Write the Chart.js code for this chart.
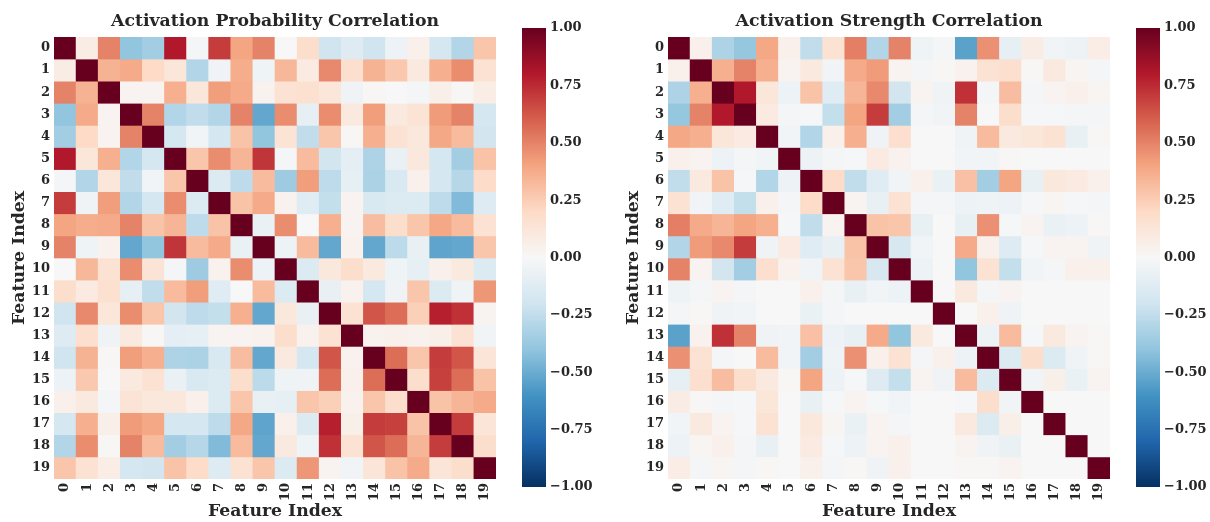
<!DOCTYPE html>
<html>
<head>
<meta charset="utf-8">
<script src="https://cdn.jsdelivr.net/npm/chart.js@4.4.1/dist/chart.umd.min.js"></script>
<style>
  html, body { margin: 0; padding: 0; background: #ffffff; }
  body { width: 1210px; height: 522px; position: relative; overflow: hidden; }
  canvas { position: absolute; top: 0; }
</style>
</head>
<body>
<canvas id="probMap" width="510" height="522" style="left:0px;width:510px;height:522px"></canvas>
<canvas id="strMap" width="510" height="522" style="left:614px;width:510px;height:522px"></canvas>
<canvas id="probBar" width="86" height="522" style="left:510px;width:86px;height:522px"></canvas>
<canvas id="strBar" width="86" height="522" style="left:1124px;width:86px;height:522px"></canvas>
<script>
// Feature indices shown on both axes
const featureLabels = ['0','1','2','3','4','5','6','7','8','9','10','11','12','13','14','15','16','17','18','19'];

// Colour bar ticks
const colorbarTicks = [-1, -0.75, -0.5, -0.25, 0, 0.25, 0.5, 0.75, 1];

// Correlation of activation probabilities (row i = feature i)
const probCorr = [
  [1,0.08,0.5,-0.4,-0.35,0.8,-0.02,0.7,0.4,0.5,0,0.18,-0.2,-0.13,-0.2,-0.06,0.05,-0.18,-0.3,0.28],
  [0.08,1,0.35,0.38,0.2,0.12,-0.3,-0.04,0.37,-0.05,0.33,0.09,0.48,0.17,0.35,0.27,0.1,0.36,0.47,0.15],
  [0.5,0.35,1,0.03,0.03,0.36,0.12,0.42,0.38,0.04,0.15,0.16,0.12,-0.04,0.01,0,-0.02,0.06,0.01,0.07],
  [-0.4,0.38,0.03,1,0.5,-0.3,-0.25,-0.3,0.5,-0.52,0.47,-0.09,0.47,0.1,0.42,0.1,0.14,0.43,0.5,-0.18],
  [-0.35,0.2,0.03,0.5,1,-0.18,-0.03,-0.18,0.29,-0.4,0.14,-0.25,0.28,0.01,0.36,0.15,0.11,0.39,0.32,-0.19],
  [0.8,0.12,0.36,-0.3,-0.18,1,0.28,0.47,0.34,0.72,-0.02,0.32,-0.19,-0.1,-0.31,-0.07,0.11,-0.18,-0.35,0.29],
  [-0.02,-0.3,0.12,-0.25,-0.03,0.28,1,-0.14,-0.26,0.32,-0.36,0.42,-0.26,-0.09,-0.32,-0.16,0.05,-0.18,-0.29,0.19],
  [0.7,-0.04,0.42,-0.3,-0.18,0.47,-0.14,1,0.29,0.38,0.04,-0.12,-0.24,0.03,-0.16,-0.14,-0.14,-0.26,-0.44,-0.13],
  [0.4,0.37,0.38,0.5,0.29,0.34,-0.26,0.29,1,-0.07,0.47,0,0.36,0.03,0.31,0.18,0.28,0.39,0.32,0.15],
  [0.5,-0.05,0.04,-0.52,-0.4,0.72,0.32,0.38,-0.07,1,-0.06,0.32,-0.52,0.04,-0.52,-0.27,-0.08,-0.53,-0.52,0.28],
  [0,0.33,0.15,0.47,0.14,-0.02,-0.36,0.04,0.47,-0.06,1,-0.14,0.11,0.18,0.1,-0.05,-0.09,0.05,0.1,-0.14],
  [0.18,0.09,0.16,-0.09,-0.25,0.32,0.42,-0.12,0,0.32,-0.14,1,-0.08,0.04,-0.18,-0.04,0.28,-0.14,-0.05,0.44],
  [-0.2,0.48,0.12,0.47,0.28,-0.19,-0.26,-0.24,0.36,-0.52,0.11,-0.08,1,0.15,0.63,0.56,0.24,0.78,0.73,0.03],
  [-0.13,0.17,-0.04,0.1,0.01,-0.1,-0.09,0.03,0.03,0.04,0.18,0.04,0.15,1,0.04,0.05,0.04,0.06,0.15,-0.03],
  [-0.2,0.35,0.01,0.42,0.36,-0.31,-0.32,-0.16,0.31,-0.52,0.1,-0.18,0.63,0.04,1,0.56,0.28,0.7,0.63,0.13],
  [-0.06,0.27,0,0.1,0.15,-0.07,-0.16,-0.14,0.18,-0.27,-0.05,-0.04,0.56,0.05,0.56,1,0.18,0.69,0.56,0.29],
  [0.05,0.1,-0.02,0.14,0.11,0.11,0.05,-0.14,0.28,-0.08,-0.09,0.28,0.24,0.04,0.28,0.18,1,0.29,0.34,0.38],
  [-0.18,0.36,0.06,0.43,0.39,-0.18,-0.18,-0.26,0.39,-0.53,0.05,-0.14,0.78,0.06,0.7,0.69,0.29,1,0.7,0.13],
  [-0.3,0.47,0.01,0.5,0.32,-0.35,-0.29,-0.44,0.32,-0.52,0.1,-0.05,0.73,0.15,0.63,0.56,0.34,0.7,1,0.18],
  [0.28,0.15,0.07,-0.18,-0.19,0.29,0.19,-0.13,0.15,0.28,-0.14,0.44,0.03,-0.03,0.13,0.29,0.38,0.13,0.18,1]
];

// Correlation of activation strengths (row i = feature i)
const strengthCorr = [
  [1,0.05,-0.31,-0.39,0.39,0.05,-0.25,0.15,0.51,-0.3,0.5,-0.05,-0.02,-0.54,0.46,-0.09,0.08,-0.03,-0.06,0.07],
  [0.05,1,0.36,0.5,0.36,0.03,0.1,-0.03,0.38,0.43,0.03,-0.02,0.01,0.04,0.15,0.17,0.01,0.1,0.02,-0.02],
  [-0.31,0.36,1,0.8,0.12,-0.06,0.29,-0.12,0.34,0.48,-0.19,0.03,-0.04,0.73,-0.02,0.31,-0.02,0.03,0.05,0.02],
  [-0.39,0.5,0.8,1,0.09,-0.02,-0.01,-0.24,0.4,0.7,-0.35,-0.02,-0.03,0.5,0,0.18,-0.01,-0.01,-0.02,-0.02],
  [0.39,0.36,0.12,0.09,1,-0.03,-0.3,0.05,0.36,-0.04,0.17,0,0,-0.04,0.32,0.1,0.12,0.15,-0.08,0.01],
  [0.05,0.03,-0.06,-0.02,-0.03,1,-0.06,-0.02,-0.01,0.09,0.04,0,0,-0.03,-0.03,0.01,0,0,0,0],
  [-0.25,0.1,0.29,-0.01,-0.3,-0.06,1,0.19,-0.25,-0.12,-0.03,0.05,-0.07,0.3,-0.35,0.4,-0.08,0.11,0.09,0.05],
  [0.15,-0.03,-0.12,-0.24,0.05,-0.02,0.19,1,0.03,-0.08,0.15,-0.02,-0.02,-0.06,-0.05,-0.06,-0.01,0.02,-0.01,-0.02],
  [0.51,0.38,0.34,0.4,0.36,-0.01,-0.25,0.03,1,0.29,0.28,-0.08,0,-0.08,0.46,-0.01,0.03,-0.07,-0.06,0.01],
  [-0.3,0.43,0.48,0.7,-0.04,0.09,-0.12,-0.08,0.29,1,-0.17,-0.03,0,0.38,0.05,-0.13,-0.01,0.03,0.03,-0.04],
  [0.5,0.03,-0.19,-0.35,0.17,0.04,-0.03,0.15,0.28,-0.17,1,-0.06,0,-0.4,0.15,-0.24,-0.03,-0.02,0.05,0.05],
  [-0.05,-0.02,0.03,-0.02,0,0,0.05,-0.02,-0.08,-0.03,-0.06,1,0,0.1,-0.02,0.03,0,0,0,0],
  [-0.02,0.01,-0.04,-0.03,0,0,-0.07,-0.02,0,0,0,0,1,0,0.05,-0.04,0,0,0,0],
  [-0.54,0.04,0.73,0.5,-0.04,-0.03,0.3,-0.06,-0.08,0.38,-0.4,0.1,0,1,-0.06,0.32,-0.01,0.1,0.03,0.01],
  [0.46,0.15,-0.02,0,0.32,-0.03,-0.35,-0.05,0.46,0.05,0.15,-0.02,0.05,-0.06,1,-0.14,0.18,-0.14,-0.04,0.01],
  [-0.09,0.17,0.31,0.18,0.1,0.01,0.4,-0.06,-0.01,-0.13,-0.24,0.03,-0.04,0.32,-0.14,1,-0.03,0.06,-0.07,0.03],
  [0.08,0.01,-0.02,-0.01,0.12,0,-0.08,-0.01,0.03,-0.01,-0.03,0,0,-0.01,0.18,-0.03,1,0,0,0],
  [-0.03,0.1,0.03,-0.01,0.15,0,0.11,0.02,-0.07,0.03,-0.02,0,0,0.1,-0.14,0.06,0,1,0,0],
  [-0.06,0.02,0.05,-0.02,-0.08,0,0.09,-0.01,-0.06,0.03,0.05,0,0,0.03,-0.04,-0.07,0,0,1,0],
  [0.07,-0.02,0.02,-0.02,0.01,0,0.05,-0.02,0.01,-0.04,0.05,0,0,0.01,0.01,0.03,0,0,0,1]
];

// Diverging red-blue palette, from -1 (blue) to +1 (red)
const rdbuStops = ['#053061','#2166ac','#4393c3','#92c5de','#d1e5f0','#f7f7f7',
                   '#fddbc7','#f4a582','#d6604d','#b2182b','#67001f'];

function hexToRgb(h) {
  return [parseInt(h.slice(1,3),16), parseInt(h.slice(3,5),16), parseInt(h.slice(5,7),16)];
}
const rdbuRgb = rdbuStops.map(hexToRgb);

function corrColor(v) {
  const t = Math.max(0, Math.min(1, (v + 1) / 2)) * (rdbuRgb.length - 1);
  const i = Math.min(Math.floor(t), rdbuRgb.length - 2);
  const f = t - i;
  const a = rdbuRgb[i], b = rdbuRgb[i + 1];
  const c = a.map((x, k) => Math.round(x + (b[k] - x) * f));
  return `rgb(${c[0]},${c[1]},${c[2]})`;
}

const TEXT = '#262626';
const FONT = "'DejaVu Serif', 'Liberation Serif', serif";

function heatmap(canvasId, title, matrix) {
  const datasets = matrix.map((row, i) => ({
    data: row.map(() => [i, i + 1]),
    backgroundColor: row.map(corrColor),
    borderWidth: 0,
    grouped: false,
    barPercentage: 1,
    categoryPercentage: 1
  }));
  return new Chart(document.getElementById(canvasId), {
    type: 'bar',
    data: { labels: featureLabels, datasets },
    options: {
      responsive: false,
      animation: false,
      events: [],
      layout: { padding: { left: 0, right: 14, top: 0, bottom: 0 } },
      plugins: {
        legend: { display: false },
        tooltip: { enabled: false },
        title: {
          display: true,
          fullSize: false,   // centre the title over the cell grid
          text: title,
          color: TEXT,
          font: { family: FONT, size: 17.3, weight: 'bold' },
          padding: { top: 11, bottom: 5.2 }
        }
      },
      scales: {
        x: {
          type: 'category',
          offset: true,
          grid: { display: false, drawTicks: false },
          border: { display: false },
          ticks: {
            color: TEXT,
            font: { family: FONT, size: 13, weight: 'bold' },
            maxRotation: 90, minRotation: 90,
            autoSkip: false,
            padding: 4
          },
          title: {
            display: true,
            text: 'Feature Index',
            color: TEXT,
            font: { family: FONT, size: 17.3, weight: 'bold' },
            padding: { top: 0, bottom: 0.5 }
          },
          afterFit(scale) { scale.height = 43; }
        },
        y: {
          type: 'linear',
          min: 0, max: 20,
          reverse: true,
          grid: { display: false, drawTicks: false },
          border: { display: false },
          afterBuildTicks(scale) {
            scale.ticks = featureLabels.map((_, k) => ({ value: k + 0.5 }));
          },
          ticks: {
            color: TEXT,
            font: { family: FONT, size: 13, weight: 'bold' },
            autoSkip: false,
            padding: 4,
            callback: (v) => featureLabels[Math.floor(v)]
          },
          title: {
            display: true,
            text: 'Feature Index',
            color: TEXT,
            font: { family: FONT, size: 17.3, weight: 'bold' },
            padding: { top: 9.5, bottom: 0 }
          },
          afterFit(scale) { scale.width = 54; }
        }
      }
    }
  });
}

function colorbar(canvasId) {
  return new Chart(document.getElementById(canvasId), {
    type: 'bar',
    data: {
      labels: [''],
      datasets: [{
        data: [[colorbarTicks[0], colorbarTicks[colorbarTicks.length - 1]]],
        borderWidth: 0,
        barPercentage: 1,
        categoryPercentage: 1,
        backgroundColor(ctx) {
          const area = ctx.chart.chartArea;
          if (!area) return '#f7f7f7';
          const g = ctx.chart.ctx.createLinearGradient(0, area.bottom, 0, area.top);
          rdbuStops.forEach((c, k) => g.addColorStop(k / (rdbuStops.length - 1), c));
          return g;
        }
      }]
    },
    options: {
      responsive: false,
      animation: false,
      events: [],
      layout: { padding: { left: 12, right: 0, top: 28, bottom: 35 } },
      plugins: { legend: { display: false }, tooltip: { enabled: false } },
      scales: {
        x: { display: false },
        y: {
          position: 'right',
          min: -1, max: 1,
          grid: { display: false, drawTicks: false },
          border: { display: false },
          afterBuildTicks(scale) {
            scale.ticks = colorbarTicks.map(v => ({ value: v }));
          },
          ticks: {
            color: TEXT,
            font: { family: FONT, size: 13, weight: 'bold' },
            padding: 4,
            callback: (v) => v.toFixed(2).replace('-', '\u2212')
          },
          afterFit(scale) { scale.width = 50; }
        }
      }
    }
  });
}

heatmap('probMap', 'Activation Probability Correlation', probCorr);
heatmap('strMap', 'Activation Strength Correlation', strengthCorr);
colorbar('probBar');
colorbar('strBar');
</script>
</body>
</html>
